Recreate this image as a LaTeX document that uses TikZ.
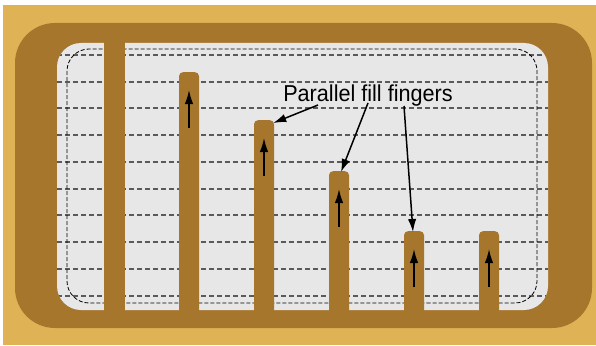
\documentclass[tikz,border=0pt]{standalone}
\usepackage{fontspec}
\setmainfont{Liberation Sans}
\usetikzlibrary{calc,arrows.meta}
\definecolor{bgyellow}{RGB}{223,179,85}
\definecolor{framebrown}{RGB}{167,118,45}
\definecolor{innergray}{RGB}{231,231,231}
\definecolor{gridgray}{RGB}{90,90,90}
\begin{document}
\begin{tikzpicture}[x=1pt,y=-1pt,
  finger/.style={fill=framebrown, inner sep=0pt, minimum width=20pt, anchor=north, rounded corners=4pt},
  gridline/.style={draw=gridgray, line width=1.8pt, dash pattern=on 5pt off 3pt},
  guide/.style={draw=black, line width=0.8pt, dash pattern=on 4pt off 2pt, rounded corners=22pt},
  flow/.style={line width=1.6pt, -{Latex[length=14pt,width=8.5pt]}},
  callout/.style={line width=1.5pt, -{Latex[length=13pt,width=8.5pt]}},
  lbl/.style={font=\fontsize{23}{27}\selectfont, inner sep=0pt, anchor=base, xscale=0.94}]
\useasboundingbox (0,0) rectangle (596,345);
\fill[white] (0,0) rectangle (596,345);
\fill[bgyellow] (3,5) rectangle (596,345);
\fill[framebrown, rounded corners=40pt] (15,23) rectangle (592,328);
\fill[innergray, rounded corners=24pt] (57,43) rectangle (548,310);
\begin{scope}
  \clip[rounded corners=24pt] (57,43) rectangle (548,310);
  \foreach \y in {55,82,108,135,162,189,215,242,269,296} \draw[gridline] (57,\y) -- (548,\y);
\end{scope}
\draw[guide] (67,49) rectangle (537,303);
% fingers
\node[finger, rounded corners=0pt, minimum width=21pt, minimum height=305pt] (f1) at (114.5,23) {};
\node[finger, minimum height=246pt] (f2) at (189,72) {};
\node[finger, minimum height=198pt] (f3) at (264,120) {};
\node[finger, minimum height=147pt] (f4) at (339,171) {};
\node[finger, minimum height=87pt] (f5) at (414,231) {};
\node[finger, minimum height=87pt] (f6) at (489,231) {};
% flow arrows inside fingers
\foreach \f in {f2,f3,f4,f5,f6}
  \draw[flow] ($(\f.north)+(0,56)$) -- ($(\f.north)+(0,18)$);
% label
\node[lbl] (lab) at (368,101.7) {Parallel fill fingers};
\coordinate (s1) at (318,105);
\coordinate (s2) at (368,103);
\coordinate (s3) at (404,106);
\draw[callout] (s1) -- ($(f3.north east)+(-1,3)$);
\draw[callout] (s2) -- ($(f4.north)+(2,1)$);
\draw[callout] (s3) -- ($(f5.north)+(-1,1)$);
\end{tikzpicture}
\end{document}
